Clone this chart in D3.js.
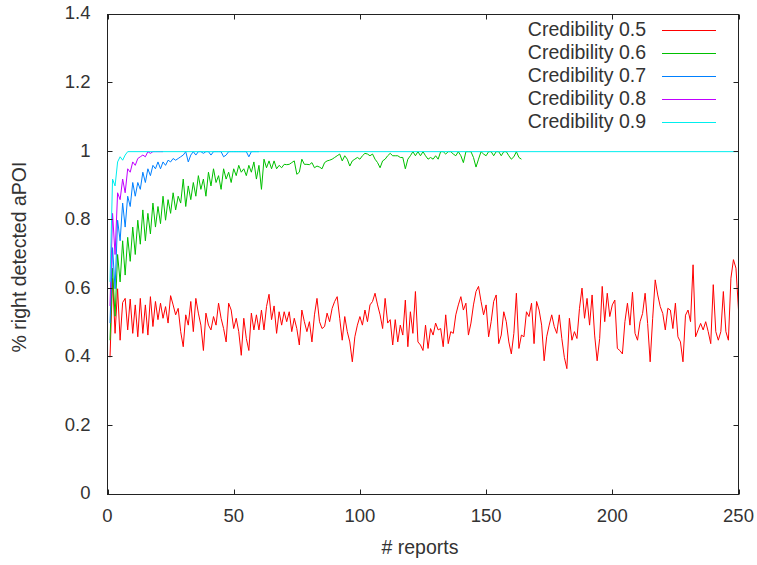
<html>
  <head>
    <style>
      body { margin:0; background:#fff; }
      text {
        font-family: "Liberation Sans", Arial, sans-serif;
        font-size: 19.5px;
        fill: #333;
      }
      text.ticklabel { font-size: 18.5px; }
      .frame { fill:none; stroke:#222; stroke-width:1px; }
      .tick { stroke:#222; stroke-width:1px; }
      .series { fill:none; stroke-width:1px; }
    </style>
    <script src="https://d3js.org/d3.v7.min.js" charset="utf-8"></script>
  </head>
  <body>
    <script>
      // values, x = 1, 2, 3 ...
      const red = [
        .40,.63,.47,.60,.45,.56,
        .572,.48,.57,.47,.553,.46,.572,.47,.553,.465,
        .577,.49,.563,.51,.558,.514,.548,.50,.58,.553,
        .524,.543,.475,.431,.524,.494,.563,.475,.572,.529,
        .494,.42,.529,.494,.48,.519,.494,.558,.514,.484,
        .445,.558,.538,.484,.514,
        .475,.406,.514,.455,.42,.529,.48,.524,.48,.538,
        .48,.548,.584,.51,.55,.47,.533,.494,.533,.504,
        .533,.475,.514,.484,.436,.538,.504,.475,.504,.445,
        .524,.572,.504,.484,.49,.529,.504,.543,.563,.577,
        .514,.45,.519,.475,.445,.387,.46,.494,.519,.494,
        .538,
        .504,.553,.563,.587,.553,.524,.484,.572,.50,.51,
        .436,.51,.445,.494,.465,.567,.431,.533,.47,.592,
        .445,.436,.42,.494,.426,.484,.465,.50,.48,.484,
        .431,.524,.44,.475,.47,.524,.553,.577,.538,.558,
        .465,.50,.553,.592,.607,.563,.524,.553,.46,.504,
        .563,
        .582,.44,.465,.533,.504,.445,.41,
        .47,.587,.426,.465,.46,.533,.519,.558,.44,.563,
        .538,.494,.39,.46,.494,.524,.49,.47,.524,.455,
        .40,.367,.514,.45,.475,.455,.543,.602,.514,.572,
        .494,.582,.465,.39,.455,.607,.504,.587,.519,.553,
        .567,.426,.42,.41,.504,.558,.494,.59,.47,.45,
        .504,.528,.587,.499,.387,.514,.626,.582,.548,.528,
        .48,.543,.538,.484,.558,.46,.445,.387,.523,.538,
        .504,.67,.46,.48,.499,.48,.504,.475,.44,.612,
        .475,.45,.475,.592,.475,.45,.631,.685,.66,.538
      ]
      const green = [
        .45,.66,.52,.70,.62,.74,.64,.75,.68,.78,
        .70,.80,.73,.83,.74,.82,.76,.85,.78,.84,
        .79,.87,.80,.86,.82,.88,.83,.87,.85,.92,
        .84,.90,.86,.91,.87,.93,.89,.92,.87,.94,
        .90,.95,.91,.93,.89,.95,.92,.94,.91,.95,
        .93,.96,.94,.95,.93,.96,.94,.97,.92,.96,
        .89,.978,.953,.973,.95,.973,.95,.96,.953,.963,
        .962,.963,.968,.973,.934,.94,.978,.963,.963,.962,
        .968,.953,.958,.955,.95,.968,.973,.975,.978,.983,
        .988,.993,.973,.988,.978,.958,.973,.978,.983,.978,
        .988,.995,.993,.988,.993,.978,.968,.953,.973,.978,
        .988,.995,.988,.988,.988,.983,.983,.95,.978,.988,
        1,.988,1,.988,1,.988,.978,.983,.978,.988,
        .978,1,1,.993,1,1,.993,.988,1,.988,
        .968,1,1,1,.983,.955,.978,1,.993,.988,
        1,1,.988,1,1,.988,1,1,.988,.978,
        .985,1,.983,.978
      ]
      const blue = [
        .50,.72,.60,.80,.74,.85,.78,.87,.84,.91,
        .87,.91,.89,.94,.91,.95,.93,.96,.95,.97,
        .95,.97,.96,.975,.97,.98,.975,.98,.985,.99,
        1,.97,.99,1,.99,1,1,.995,1,1,
        .99,1,1,1,1,.985,.99,1,1,1,
        1,1,1,1,1,.985,1,1,1,1
      ]
      const purple = [
        .55,.82,.70,.88,.86,.92,.88,.95,.94,.97,
        .96,.98,.985,.99,.985,1,.995,1,1,1,
        1,1
      ]
      // cyan: early points, then flat at 1 to the end
      const cyanX = [1,2,3,4,5,6,7,8,250]
      const cyanY = [.62,.92,.90,.97,.985,.975,.99,1,1]

      const labels = ['Credibility 0.5','Credibility 0.6','Credibility 0.7','Credibility 0.8','Credibility 0.9']
      const colors = ['#ff0000','#00c000','#0080ff','#c000ff','#00eeee']
      const xTicks = [0,50,100,150,200,250]
      const yTicks = [0,0.2,0.4,0.6,0.8,1,1.2,1.4]

      const W = 757, H = 565
      const svg = d3.select('body').append('svg').attr('width',W).attr('height',H)

      const x = d3.scaleLinear().domain([0,250]).range([107.5,738.5])
      const y = d3.scaleLinear().domain([0,1.4]).range([494.5,14.5])

      const toPts = arr => arr.map((v,i) => [i+1,v])
      const series = [
        toPts(red), toPts(green), toPts(blue), toPts(purple),
        cyanX.map((d,i) => [d,cyanY[i]])
      ]

      const line = d3.line().x(d => x(d[0])).y(d => y(d[1]))

      const plot = svg.append('g')
      plot.selectAll('path').data(series).enter().append('path')
        .attr('class','series')
        .attr('stroke',(d,i) => colors[i])
        .attr('d',line)

      // frame with mirrored inward ticks
      svg.append('rect').attr('class','frame')
        .attr('x',x(0)).attr('y',y(1.4))
        .attr('width',x(250)-x(0)).attr('height',y(0)-y(1.4))

      const tl = 5
      const ticks = svg.append('g')
      xTicks.forEach(t => {
        const px = Math.round(x(t)) + 0.5
        ticks.append('line').attr('class','tick').attr('x1',px).attr('x2',px).attr('y1',y(0)).attr('y2',y(0)-tl)
        ticks.append('line').attr('class','tick').attr('x1',px).attr('x2',px).attr('y1',y(1.4)).attr('y2',y(1.4)+tl)
        svg.append('text').attr('class','ticklabel').attr('x',x(t)).attr('y',517).attr('text-anchor','middle')
          .attr('dominant-baseline','middle').text(t)
      })
      yTicks.forEach(t => {
        const py = Math.round(y(t)) - 0.5
        ticks.append('line').attr('class','tick').attr('x1',x(0)).attr('x2',x(0)+tl).attr('y1',py).attr('y2',py)
        ticks.append('line').attr('class','tick').attr('x1',x(250)).attr('x2',x(250)-tl).attr('y1',py).attr('y2',py)
        svg.append('text').attr('class','ticklabel').attr('x',90.5).attr('y',y(t)).attr('text-anchor','end')
          .attr('dominant-baseline','middle').text(d3.format('~g')(t))
      })

      svg.append('text').attr('x',420).attr('y',549).attr('text-anchor','middle')
        .attr('dominant-baseline','middle').text('# reports')
      svg.append('text').attr('transform','translate(21,257) rotate(-90)').attr('text-anchor','middle')
        .attr('dominant-baseline','middle').text('% right detected aPOI')

      // key
      const key = svg.append('g')
      labels.forEach((l,i) => {
        const ky = 29.5 + i*23
        key.append('text').attr('x',646).attr('y',ky+1).attr('text-anchor','end')
          .attr('dominant-baseline','middle').text(l)
        key.append('line').attr('x1',662).attr('x2',716).attr('y1',Math.round(ky)+0.5).attr('y2',Math.round(ky)+0.5)
          .attr('stroke',colors[i]).attr('stroke-width',1)
      })
    </script>
  </body>
</html>
